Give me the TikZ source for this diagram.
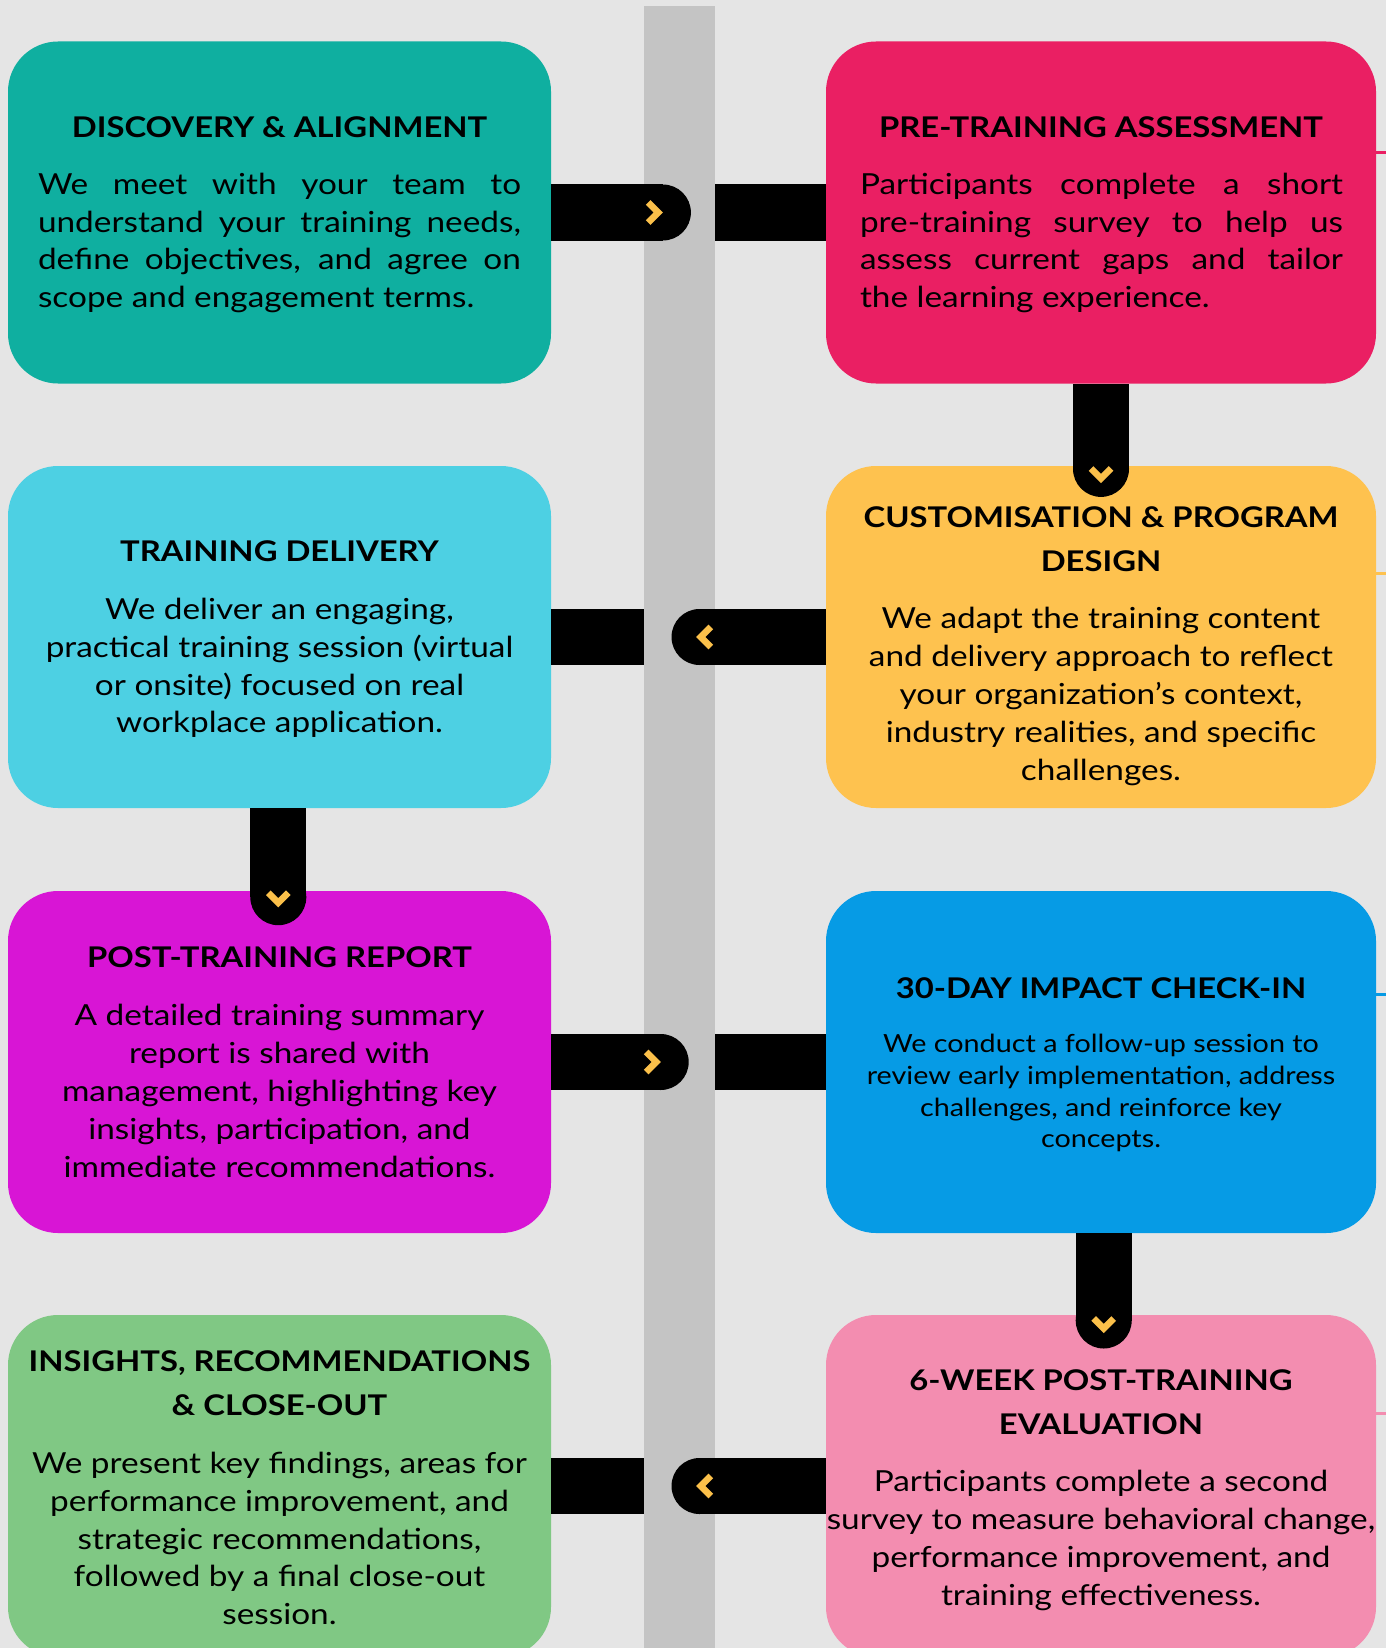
\documentclass[tikz,border=0pt]{standalone}
\usepackage{fontspec}
\setmainfont{Lato}[FakeStretch=1.15]
\usetikzlibrary{calc}

\definecolor{bg}{HTML}{E5E5E5}
\definecolor{spinegray}{HTML}{C4C4C4}
\definecolor{chevcol}{HTML}{FBC04A}
\definecolor{cteal}{HTML}{0FAFA0}
\definecolor{cred}{HTML}{EA1F63}
\definecolor{ccyan}{HTML}{4DD0E3}
\definecolor{cyellow}{HTML}{FEC24F}
\definecolor{cmagenta}{HTML}{D815D5}
\definecolor{cblue}{HTML}{069BE5}
\definecolor{cgreen}{HTML}{80C884}
\definecolor{cpink}{HTML}{F38DB0}

\tikzset{
  card/.style={rectangle, rounded corners=50pt, minimum height=342pt, inner sep=0pt, draw=none},
  lcard/.style={card, minimum width=543pt},
  rcard/.style={card, minimum width=550pt},
  ttl/.style={font=\fontsize{28.5}{44}\selectfont\bfseries, align=center, inner sep=0pt},
  bdy/.style={font=\fontsize{29}{37.8}\selectfont, align=center, inner sep=0pt},
  sbdy/.style={font=\fontsize{25}{31.9}\selectfont, align=center, inner sep=0pt},
  bar/.style={fill=black},
  chev/.style={draw=chevcol, line width=6.5pt, line join=miter, line cap=butt},
  edgeline/.style={line width=3pt},
}

\begin{document}
\begin{tikzpicture}[x=1pt,y=-1pt]
% page and background
\useasboundingbox (0,0) rectangle (1386,1648);
\clip (0,0) rectangle (1386,1648);
\fill[bg] (0,0) rectangle (1386,1648);

% central spine
\node[fill=spinegray, minimum width=71pt, minimum height=1700pt, inner sep=0pt, anchor=north] (spine) at (679.5,6) {};

% cards
\node[lcard, fill=cteal]    (b1) at (279.5,212.5) {};
\node[rcard, fill=cred]     (b2) at (1101,212.5) {};
\node[lcard, fill=ccyan]    (b3) at (279.5,637) {};
\node[rcard, fill=cyellow]  (b4) at (1101,637) {};
\node[lcard, fill=cmagenta] (b5) at (279.5,1062) {};
\node[rcard, fill=cblue]    (b6) at (1101,1062) {};
\node[lcard, fill=cgreen]   (b7) at (279.5,1486) {};
\node[rcard, fill=cpink]    (b8) at (1101,1486) {};

% thin lines leaving the right cards
\coordinate (e2) at (1386,152.7);
\coordinate (e4) at (1386,573);
\coordinate (e6) at (1386,994);
\coordinate (e8) at (1386,1413);
\draw[edgeline, cred]    (b2.east |- e2) -- (e2);
\draw[edgeline, cyellow] (b4.east |- e4) -- (e4);
\draw[edgeline, cblue]   (b6.east |- e6) -- (e6);
\draw[edgeline, cpink]   (b8.east |- e8) -- (e8);

% row 1: b1 -> b2
\fill[bar] ($(b1.east)+(0,-28)$) rectangle ($(b1.east)+(111.7,28)$);
\fill[bar] ($(b1.east)+(111.7,0)$) circle[radius=28pt];
\draw[chev] ($(b1.east)+(97,-10)$) -- ++(10,10) -- ++(-10,10);
\fill[bar] ($(spine.east |- b2.west)+(0,-28)$) rectangle ($(b2.west)+(0,28)$);

% row 2: b4 -> b3
\fill[bar] ($(b3.east)+(0,-28)$) rectangle ($(spine.west |- b3.east)+(0,28)$);
\fill[bar] ($(b4.west)+(0,-28)$) rectangle ($(b4.west)+(-126.3,28)$);
\fill[bar] ($(b4.west)+(-126.3,0)$) circle[radius=28pt];
\draw[chev] ($(b4.west)+(-115,-10)$) -- ++(-10,10) -- ++(10,10);

% row 3: b5 -> b6
\fill[bar] ($(b5.east)+(0,-28)$) rectangle ($(b5.east)+(109.5,28)$);
\fill[bar] ($(b5.east)+(109.5,0)$) circle[radius=28pt];
\draw[chev] ($(b5.east)+(95,-10)$) -- ++(10,10) -- ++(-10,10);
\fill[bar] ($(spine.east |- b6.west)+(0,-28)$) rectangle ($(b6.west)+(0,28)$);

% row 4: b8 -> b7
\fill[bar] ($(b7.east)+(0,-28)$) rectangle ($(spine.west |- b7.east)+(0,28)$);
\fill[bar] ($(b8.west)+(0,-28)$) rectangle ($(b8.west)+(-126.3,28)$);
\fill[bar] ($(b8.west)+(-126.3,0)$) circle[radius=28pt];
\draw[chev] ($(b8.west)+(-115,-10)$) -- ++(-10,10) -- ++(10,10);

% vertical links
\fill[bar] ($(b2.south)+(-28,0)$) rectangle ($(b2.south)+(28,85.2)$);
\fill[bar] ($(b2.south)+(0,85.2)$) circle[radius=28pt];
\draw[chev] ($(b2.south)+(-10,84.8)$) -- ++(10,10) -- ++(10,-10);

\fill[bar] ($(b3.south)+(-29.2,0)$) rectangle ($(b3.south)+(26.8,89)$);
\fill[bar] ($(b3.south)+(-1.2,89)$) circle[radius=28pt];
\draw[chev] ($(b3.south)+(-11.2,84.5)$) -- ++(10,10) -- ++(10,-10);

\fill[bar] ($(b6.south)+(-25.3,0)$) rectangle ($(b6.south)+(30.7,87.3)$);
\fill[bar] ($(b6.south)+(2.7,87.3)$) circle[radius=28pt];
\draw[chev] ($(b6.south)+(-7.3,85.3)$) -- ++(10,10) -- ++(10,-10);

% card texts
\node[ttl] (b1h) at (279.5,127) {DISCOVERY \& ALIGNMENT};
\node[bdy, align=left] (b1d) at (279.5,243) {%
\makebox[483pt][s]{We meet with your team to}\\
\makebox[483pt][s]{understand your training needs,}\\
\makebox[483pt][s]{define objectives, and agree on}\\
scope and engagement terms.};

\node[ttl] (b2h) at (1101,127) {PRE-TRAINING ASSESSMENT};
\node[bdy, align=left] (b2d) at (1101.5,243) {%
\makebox[483pt][s]{Participants complete a short}\\
\makebox[483pt][s]{pre-training survey to help us}\\
\makebox[483pt][s]{assess current gaps and tailor}\\
the learning experience.};

\node[ttl] (b3h) at (279.5,551) {TRAINING DELIVERY};
\node[bdy] (b3d) at (279.5,668) {We deliver an engaging,\\
practical training session (virtual\\
or onsite) focused on real\\
workplace application.};

\node[ttl] (b4h) at (1101,539) {CUSTOMISATION \& PROGRAM\\DESIGN};
\node[bdy] (b4d) at (1101,696.5) {We adapt the training content\\
and delivery approach to reflect\\
your organization’s context,\\
industry realities, and specific\\
challenges.};

\node[ttl] (b5h) at (279.5,957) {POST-TRAINING REPORT};
\node[bdy] (b5d) at (279.5,1091) {A detailed training summary\\
report is shared with\\
management, highlighting key\\
insights, participation, and\\
immediate recommendations.};

\node[ttl] (b6h) at (1101,988.5) {30-DAY IMPACT CHECK-IN};
\node[sbdy] (b6d) at (1101,1093) {We conduct a follow-up session to\\
review early implementation, address\\
challenges, and reinforce key\\
concepts.};

\node[ttl] (b7h) at (279.5,1383) {INSIGHTS, RECOMMENDATIONS\\\& CLOSE-OUT};
\node[bdy] (b7d) at (279.5,1538.5) {We present key findings, areas for\\
performance improvement, and\\
strategic recommendations,\\
followed by a final close-out\\
session.};

\node[ttl] (b8h) at (1101,1402) {6-WEEK POST-TRAINING\\EVALUATION};
\node[bdy] (b8d) at (1101,1540.5) {Participants complete a second\\
survey to measure behavioral change,\\
performance improvement, and\\
training effectiveness.};
\end{tikzpicture}
\end{document}
